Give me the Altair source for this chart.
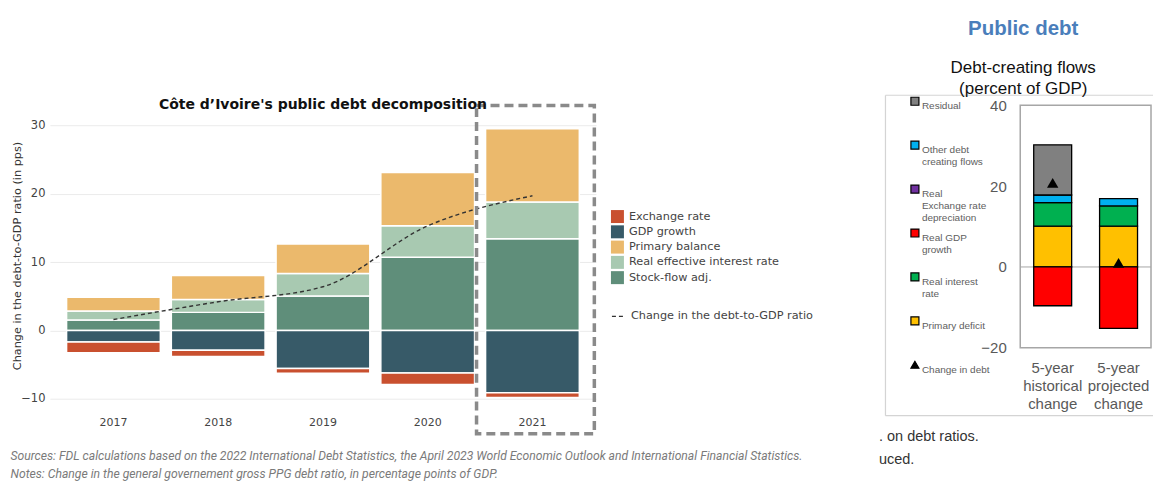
import altair as alt
import pandas as pd

# ---------------- Left panel: Côte d'Ivoire public debt decomposition (pps of GDP) ----------------
years = ["2017", "2018", "2019", "2020", "2021"]
stock_flow_adj = [1.55, 2.65, 5.05, 10.7, 13.4]
real_effective_interest = [1.3, 1.9, 3.3, 4.6, 5.4]
primary_balance = [2.0, 3.5, 4.3, 7.8, 10.7]
gdp_growth = [-1.7, -2.9, -5.55, -6.2, -9.1]
exchange_rate = [-1.55, -0.9, -0.7, -1.7, -0.7]
debt_ratio_change = [1.6, 4.2, 6.4, 15.3, 19.7]

left_components = ["Exchange rate", "GDP growth", "Primary balance",
                   "Real effective interest rate", "Stock-flow adj."]
left_colors = ["#C9502F", "#375A68", "#EBB96C", "#A8C9B1", "#5F8E7A"]
left_ticks = [-10, 0, 10, 20, 30]
line_label = ["Change in the debt-to-GDP ratio"]
highlight_year = ["2021"]
highlight_top = [32.9]
highlight_bottom = [-15.1]
left_title = "Côte d\u2019Ivoire's public debt decomposition"
sources_lines = [
    "Sources: FDL calculations based on the 2022 International Debt Statistics, the April 2023 World Economic Outlook and International Financial Statistics.",
    "Notes: Change in the general governement gross PPG debt ratio, in percentage points of GDP.",
]

# ---------------- Right panel: Debt-creating flows (percent of GDP) ----------------
periods = ["5-year historical change", "5-year projected change"]
primary_deficit = [10.1, 10.1]
real_interest_rate = [5.8, 5.0]
other_flows = [1.9, 1.8]
residual = [12.4, 0.0]
real_gdp_growth = [-9.6, -15.2]
change_in_debt = [20.8, 1.0]

right_components = ["Residual", "Other debt creating flows", "Real Exchange rate depreciation",
                    "Real GDP growth", "Real interest rate", "Primary deficit", "Change in debt"]
right_colors = ["#808080", "#00B0F0", "#7030A0", "#FF0000", "#00B050", "#FFC000", "#000000"]
right_shapes = ["square"] * 6 + ["triangle-up"]
right_ticks = [-20, 0, 20, 40]
right_fragments = [". on debt ratios.", "uced."]

# ---------------- Build tables ----------------
left_rows = []
for i, yr in enumerate(years):
    for comp, vals, order in [("Stock-flow adj.", stock_flow_adj, 1),
                              ("Real effective interest rate", real_effective_interest, 2),
                              ("Primary balance", primary_balance, 3),
                              ("GDP growth", gdp_growth, 4),
                              ("Exchange rate", exchange_rate, 5)]:
        left_rows.append({"year": yr, "component": comp, "value": vals[i], "order": order})
left_df = pd.DataFrame(left_rows)
line_df = pd.DataFrame({"year": years, "change": debt_ratio_change, "series": line_label * len(years)})
box_df = pd.DataFrame({"year": highlight_year, "top": highlight_top, "bottom": highlight_bottom})

right_rows = []
for i, p in enumerate(periods):
    for comp, vals, order in [("Primary deficit", primary_deficit, 1),
                              ("Real interest rate", real_interest_rate, 2),
                              ("Other debt creating flows", other_flows, 3),
                              ("Residual", residual, 4),
                              ("Real GDP growth", real_gdp_growth, 5)]:
        if vals[i] != 0:
            right_rows.append({"period": p, "flow": comp, "value": vals[i], "order": order})
right_df = pd.DataFrame(right_rows)
tri_df = pd.DataFrame({"period": periods, "value": change_in_debt, "flow": ["Change in debt"] * 2})

# ---------------- Left chart ----------------
L_FONT = "DejaVu Sans"
x_left = alt.X("year:N", title=sources_lines,
               scale=alt.Scale(paddingInner=0.105, paddingOuter=0.159),
               axis=alt.Axis(labelAngle=0, ticks=False, domain=False, labelPadding=11,
                             labelFont=L_FONT, labelFontSize=11, labelColor="#444",
                             titleX=-40, titleY=44, titleAnchor="start", titleAlign="left",
                             titleBaseline="top", titleFont="Roboto", titleFontStyle="italic",
                             titleFontWeight="normal", titleFontSize=12.2, titleColor="#7a7a7a",
                             titleLineHeight=18))
y_scale_left = alt.Scale(domain=[-11, 32.94], nice=False, zero=False)

bars_left = alt.Chart(left_df).mark_bar(stroke="white", strokeWidth=1.5).encode(
    x=x_left,
    y=alt.Y("value:Q", scale=y_scale_left, title="Change in the debt-to-GDP ratio (in pps)",
            axis=alt.Axis(values=left_ticks, ticks=False, domain=False, gridColor="#ebebeb",
                          labelFont=L_FONT, labelFontSize=11.5, labelColor="#444", labelPadding=5,
                          titleFont=L_FONT, titleFontSize=11.3, titleFontWeight="normal",
                          titleColor="#333", titlePadding=-2)),
    color=alt.Color("component:N", scale=alt.Scale(domain=left_components, range=left_colors),
                    legend=alt.Legend(orient="none", legendX=562, legendY=105, title=None,
                                      symbolType="square", symbolSize=169, symbolStrokeWidth=0,
                                      rowPadding=2.3, labelFont=L_FONT, labelFontSize=11.3,
                                      labelColor="#444", labelOffset=5, labelLimit=300)),
    order=alt.Order("order:Q"),
)

line_left = alt.Chart(line_df).mark_line(interpolate="monotone", color="#333", strokeWidth=1.4).encode(
    x=alt.X("year:N"),
    y=alt.Y("change:Q"),
    strokeDash=alt.StrokeDash("series:N", scale=alt.Scale(domain=line_label, range=[[4, 3]]),
                              legend=alt.Legend(orient="none", legendX=562, legendY=204, title=None,
                                                symbolType="stroke", symbolSize=169,
                                                symbolStrokeColor="#333", symbolStrokeWidth=1.3,
                                                labelFont=L_FONT, labelFontSize=11.3,
                                                labelColor="#444", labelOffset=5, labelLimit=300)),
)

box_left = alt.Chart(box_df).mark_bar(filled=False, stroke="#8a8a8a", strokeWidth=3.5,
                                      strokeDash=[9, 5], width=118, xOffset=3, clip=False).encode(
    x=alt.X("year:N"), y=alt.Y("top:Q"), y2=alt.Y2("bottom:Q"))

left = alt.layer(bars_left, line_left, box_left).properties(
    width=547, height=301,
    title=alt.TitleParams(left_title, font=L_FONT, fontSize=14, fontWeight="bold", color="#111",
                          anchor="middle", frame="group", baseline="bottom", offset=-22),
    view=alt.ViewBackground(stroke=None),
).resolve_legend(color="independent", strokeDash="independent")

# ---------------- Right chart ----------------
R_FONT = "Liberation Sans"
right_legend = alt.Legend(
    orient="none", legendX=-110.5, legendY=-9, title=None, symbolSize=64,
    symbolStrokeColor="#000", symbolStrokeWidth=1.2, labelFont=R_FONT, labelFontSize=10,
    labelColor="#606060", labelOffset=2, rowPadding=3, gridAlign="all", labelBaseline="top",
    labelExpr=("datum.label == 'Other debt creating flows' ? ['Other debt','creating flows'] : "
               "datum.label == 'Real Exchange rate depreciation' ? ['Real','Exchange rate','depreciation'] : "
               "datum.label == 'Real GDP growth' ? ['Real GDP','growth'] : "
               "datum.label == 'Real interest rate' ? ['Real interest','rate'] : datum.label"),
)
right_color = alt.Color("flow:N", scale=alt.Scale(domain=right_components, range=right_colors),
                        legend=right_legend)
right_shape = alt.Shape("flow:N", scale=alt.Scale(domain=right_components, range=right_shapes),
                        legend=right_legend)
x_right = alt.X("period:N", title=right_fragments, sort=periods,
                scale=alt.Scale(paddingInner=0.424, paddingOuter=0.2045),
                axis=alt.Axis(labelAngle=0, ticks=False, domain=False, labelPadding=13,
                              labelExpr="split(datum.label, ' ')", labelFont=R_FONT,
                              labelFontSize=15, labelColor="#595959", labelLineHeight=18,
                              labelBaseline="top",
                              titleX=-142, titleY=82, titleAnchor="start", titleAlign="left",
                              titleBaseline="top", titleFont=R_FONT, titleFontWeight="normal",
                              titleFontSize=14.5, titleColor="#333", titleLineHeight=23))
y_scale_right = alt.Scale(domain=[-20, 40], nice=False, zero=False)

bars_right = alt.Chart(right_df).mark_bar(stroke="#000", strokeWidth=1.3).encode(
    x=x_right,
    y=alt.Y("value:Q", scale=y_scale_right, title=None,
            axis=alt.Axis(values=right_ticks, grid=False, ticks=False, domain=False,
                          labelFont=R_FONT, labelFontSize=15, labelColor="#595959",
                          labelPadding=14)),
    color=right_color,
    order=alt.Order("order:Q"),
)
zero_rule = alt.Chart(pd.DataFrame({"zero": [0]})).mark_rule(color="#a6a6a6", strokeWidth=1).encode(
    y=alt.Y("zero:Q"))
tri_right = alt.Chart(tri_df).mark_point(filled=True, size=130, opacity=1).encode(
    x=alt.X("period:N", sort=periods), y=alt.Y("value:Q"), color=right_color, shape=right_shape)

# light panel border (decoration): top, left and bottom edges
frame_base = alt.Chart(alt.Data(values=[{}]))
frame_top = frame_base.mark_rule(color="#d4d4d4", strokeWidth=1.2, clip=False).encode(
    x=alt.value(-135), x2=alt.value(133), y=alt.value(-10))
frame_bottom = frame_base.mark_rule(color="#d4d4d4", strokeWidth=1.2, clip=False).encode(
    x=alt.value(-135), x2=alt.value(133), y=alt.value(311))
frame_left = frame_base.mark_rule(color="#d4d4d4", strokeWidth=1.2, clip=False).encode(
    x=alt.value(-135), y=alt.value(-10), y2=alt.value(311))

right = alt.layer(frame_top, frame_bottom, frame_left, zero_rule, bars_right, tri_right).properties(
    width=131, height=243,
    title=alt.TitleParams("Public debt", subtitle=["Debt-creating flows", "(percent of GDP)"],
                          font=R_FONT, fontSize=20.5, fontWeight="bold", color="#4A7EBB",
                          subtitleFont=R_FONT, subtitleFontSize=17, subtitleColor="#111",
                          subtitleLineHeight=21, subtitlePadding=20,
                          anchor="middle", frame="group", dx=-62.5, offset=-2),
    view=alt.ViewBackground(stroke="#a6a6a6", strokeWidth=1.5),
)

chart = alt.hconcat(left, right, spacing=425, bounds="flush").resolve_scale(
    color="independent", shape="independent", x="independent", y="independent"
).resolve_legend(color="independent", shape="independent").properties(
    padding={"left": 2, "top": 10, "right": 0, "bottom": 0},
    background="white",
)

chart.save("out.html", embed_options={"renderer": "svg", "actions": False})
